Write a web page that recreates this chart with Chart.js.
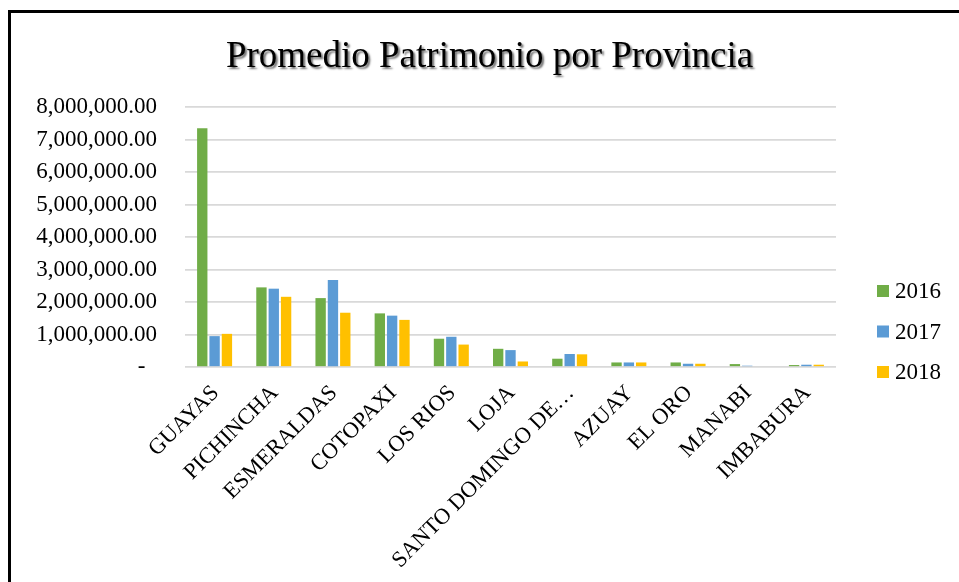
<!DOCTYPE html>
<html lang="es">
<head>
<meta charset="utf-8">
<title>Promedio Patrimonio por Provincia</title>
<script src="https://cdn.jsdelivr.net/npm/chart.js@4"></script>
<style>
  body { margin: 0; background: #fff; overflow: hidden; }
  #frame {
    position: absolute; left: 8px; top: 10px;
    width: 980px; height: 620px;
    border-top: 3px solid #000; border-left: 3px solid #000;
  }
  #chart { position: absolute; left: 11px; top: 13px; }
</style>
</head>
<body>
<div id="frame"></div>
<canvas id="chart" width="948" height="569"></canvas>
<script>
const titulo = 'Promedio Patrimonio por Provincia';
const provincias = ['GUAYAS', 'PICHINCHA', 'ESMERALDAS', 'COTOPAXI', 'LOS RIOS', 'LOJA',
  'SANTO DOMINGO DE LOS TSACHILAS', 'AZUAY', 'EL ORO', 'MANABI', 'IMBABURA'];
const anios = ['2016', '2017', '2018'];
const valores2016 = [7350000, 2450000, 2120000, 1650000, 870000, 560000, 255000, 140000, 140000, 90000, 60000];
const valores2017 = [950000, 2410000, 2680000, 1580000, 930000, 520000, 400000, 140000, 100000, 40000, 70000];
const valores2018 = [1020000, 2160000, 1670000, 1450000, 690000, 170000, 390000, 140000, 100000, 0, 70000];
const colores = ['#70AD47', '#5B9BD5', '#FFC000'];

const FONT = "'Liberation Serif', 'Times New Roman', serif";

// titulo con sombra, como en Excel
const titlePlugin = {
  id: 'tituloSombra',
  afterDraw(chart) {
    const ctx = chart.ctx;
    ctx.save();
    ctx.font = `37px ${FONT}`;
    ctx.textAlign = 'center';
    ctx.textBaseline = 'alphabetic';
    ctx.fillStyle = '#000';
    ctx.shadowColor = 'rgba(0,0,0,0.55)';
    ctx.shadowOffsetX = 2;
    ctx.shadowOffsetY = 2;
    ctx.shadowBlur = 2;
    ctx.fillText(titulo, 478.5, 54);
    ctx.restore();
  }
};

// leyenda a la derecha, centrada sobre todo el grafico
const legendPlugin = {
  id: 'leyendaDerecha',
  afterDraw(chart) {
    const ctx = chart.ctx;
    ctx.save();
    ctx.font = `23px ${FONT}`;
    ctx.textBaseline = 'middle';
    ctx.textAlign = 'left';
    chart.data.datasets.forEach((ds, i) => {
      const y = 278 + i * 40.5;
      ctx.fillStyle = ds.backgroundColor;
      ctx.fillRect(866, y - 6, 12, 12);
      ctx.fillStyle = '#000';
      ctx.fillText(ds.label, 884, y + 1);
    });
    ctx.restore();
  }
};

function formatoMonto(value) {
  if (value === 0) return '-  ';
  return value.toLocaleString('en-US', { minimumFractionDigits: 2, maximumFractionDigits: 2 });
}

function recortar(label) {
  return label.length > 17 ? label.slice(0, 16) + '…' : label;
}

const series = [valores2016, valores2017, valores2018];

new Chart(document.getElementById('chart').getContext('2d'), {
  type: 'bar',
  data: {
    labels: provincias,
    datasets: anios.map((anio, i) => ({
      label: anio,
      data: series[i],
      backgroundColor: colores[i],
      borderWidth: 0,
      categoryPercentage: 0.625,
      barPercentage: 0.84,
    })),
  },
  options: {
    responsive: false,
    animation: false,
    devicePixelRatio: 1,
    layout: { padding: { top: 94, right: 123, left: 0, bottom: 0 } },
    plugins: {
      legend: { display: false },
      title: { display: false },
      tooltip: { enabled: false },
    },
    scales: {
      x: {
        grid: { display: false, drawTicks: false },
        border: { display: false },
        ticks: {
          color: '#000',
          font: { family: FONT, size: 22.5 },
          minRotation: 45,
          maxRotation: 45,
          autoSkip: false,
          padding: 13,
          labelOffset: 1,
          callback: function (value) { return recortar(this.getLabelForValue(value)); },
        },
        afterFit(scale) { scale.height = 215; },
      },
      y: {
        min: 0,
        max: 8000000,
        grid: { color: '#D9D9D9', lineWidth: 1.7, drawTicks: false },
        border: { display: false },
        ticks: {
          stepSize: 1000000,
          color: '#000',
          padding: 28,
          font: { family: FONT, size: 23 },
          callback: (value) => formatoMonto(value),
        },
        afterFit(scale) { scale.width = 174; },
      },
    },
  },
  plugins: [titlePlugin, legendPlugin],
});
</script>
</body>
</html>
